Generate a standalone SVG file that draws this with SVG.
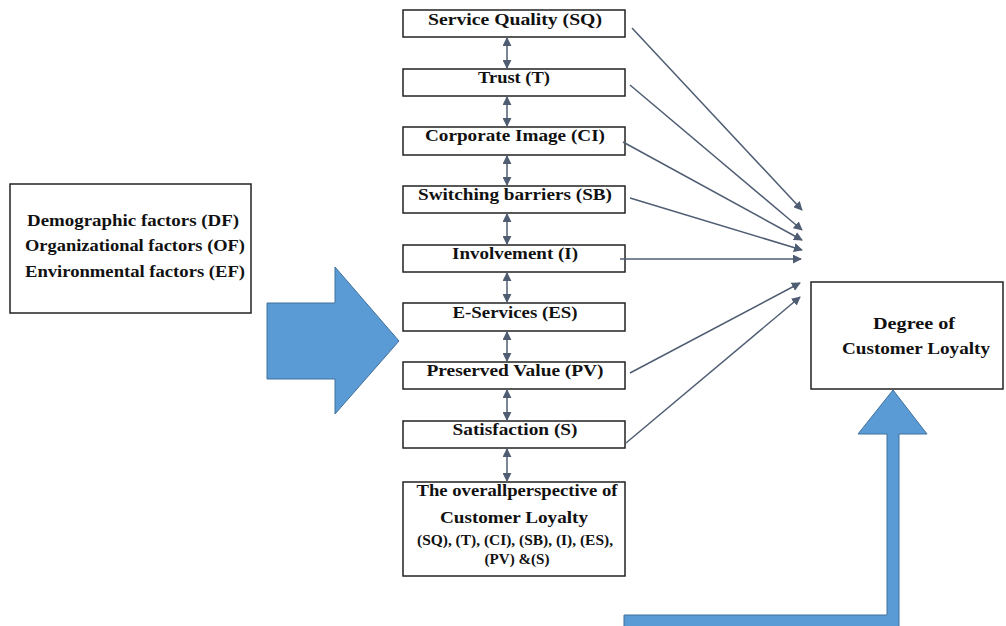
<svg xmlns="http://www.w3.org/2000/svg" width="1006" height="626" viewBox="0 0 1006 626">
<style>
.box{fill:#fff;stroke:#222;stroke-width:1.5}
.t{font-family:"Liberation Serif","Times New Roman",serif;font-weight:bold;font-size:16px;fill:#111;text-anchor:middle}
.s{font-size:14px}
.c{stroke:#4f5d73;stroke-width:1.5;fill:none}
.blue{fill:#5b9bd5;stroke:#41719c;stroke-width:1}
</style>
<defs>
<marker id="ah" viewBox="0 0 10 10" refX="9" refY="5" markerWidth="9" markerHeight="9" markerUnits="userSpaceOnUse" orient="auto-start-reverse">
<path d="M0,0 L10,5 L0,10 z" fill="#4f5d73"/>
</marker>
</defs>
<rect width="1006" height="626" fill="#fff"/>

<g id="factors">
<rect class="box" x="10" y="184" width="241" height="129"/>
<text class="t" x="133" y="226" textLength="212" lengthAdjust="spacingAndGlyphs">Demographic factors (DF)</text>
<text class="t" x="135" y="251" textLength="220" lengthAdjust="spacingAndGlyphs">Organizational factors (OF)</text>
<text class="t" x="135" y="277" textLength="220" lengthAdjust="spacingAndGlyphs">Environmental factors (EF)</text>
</g>

<g id="bigArrowRight">
<polygon class="blue" points="267,303 335,303 335,267 399,341 335,414 335,379 267,379"/>
</g>

<g id="bigArrowUp">
<polygon class="blue" points="893,390 927,434 899,434 899,630 624,630 624,615 887,615 887,434 858,434"/>
</g>

<g id="SQ">
<rect class="box" x="403" y="10" width="222" height="27"/>
<text class="t" x="515" y="25" textLength="174" lengthAdjust="spacingAndGlyphs">Service Quality (SQ)</text>
</g>
<g id="T">
<rect class="box" x="403" y="69" width="222" height="27"/>
<text class="t" x="514" y="83" textLength="72" lengthAdjust="spacingAndGlyphs">Trust (T)</text>
</g>
<g id="CI">
<rect class="box" x="403" y="127" width="222" height="28"/>
<text class="t" x="515" y="141" textLength="180" lengthAdjust="spacingAndGlyphs">Corporate Image (CI)</text>
</g>
<g id="SB">
<rect class="box" x="403" y="186" width="222" height="27"/>
<text class="t" x="515" y="200" textLength="194" lengthAdjust="spacingAndGlyphs">Switching barriers (SB)</text>
</g>
<g id="I">
<rect class="box" x="403" y="245" width="222" height="27"/>
<text class="t" x="515" y="259" textLength="126" lengthAdjust="spacingAndGlyphs">Involvement (I)</text>
</g>
<g id="ES">
<rect class="box" x="403" y="303" width="222" height="28"/>
<text class="t" x="515" y="318" textLength="125" lengthAdjust="spacingAndGlyphs">E-Services (ES)</text>
</g>
<g id="PV">
<rect class="box" x="403" y="362" width="222" height="27"/>
<text class="t" x="515" y="376" textLength="177" lengthAdjust="spacingAndGlyphs">Preserved Value (PV)</text>
</g>
<g id="S">
<rect class="box" x="403" y="421" width="222" height="27"/>
<text class="t" x="515" y="435" textLength="125" lengthAdjust="spacingAndGlyphs">Satisfaction (S)</text>
</g>
<g id="overall">
<rect class="box" x="403" y="482" width="222" height="94"/>
<text class="t" x="517" y="496" textLength="201" lengthAdjust="spacingAndGlyphs">The overallperspective of</text>
<text class="t" x="514" y="523" textLength="148" lengthAdjust="spacingAndGlyphs">Customer Loyalty</text>
<text class="t s" x="515" y="545" textLength="196" lengthAdjust="spacingAndGlyphs">(SQ), (T), (CI), (SB), (I), (ES),</text>
<text class="t s" x="517" y="564" textLength="65" lengthAdjust="spacingAndGlyphs">(PV) &amp;(S)</text>
</g>
<g id="degree">
<rect class="box" x="811" y="282" width="192" height="107"/>
<text class="t" x="914" y="329" textLength="82" lengthAdjust="spacingAndGlyphs">Degree of</text>
<text class="t" x="916" y="354" textLength="148" lengthAdjust="spacingAndGlyphs">Customer Loyalty</text>
</g>

<g id="connectors">
<line class="c" x1="507" y1="38" x2="507" y2="68" marker-start="url(#ah)" marker-end="url(#ah)"/>
<line class="c" x1="507" y1="97" x2="507" y2="126" marker-start="url(#ah)" marker-end="url(#ah)"/>
<line class="c" x1="507" y1="156" x2="507" y2="185" marker-start="url(#ah)" marker-end="url(#ah)"/>
<line class="c" x1="507" y1="214" x2="507" y2="244" marker-start="url(#ah)" marker-end="url(#ah)"/>
<line class="c" x1="507" y1="273" x2="507" y2="302" marker-start="url(#ah)" marker-end="url(#ah)"/>
<line class="c" x1="507" y1="332" x2="507" y2="361" marker-start="url(#ah)" marker-end="url(#ah)"/>
<line class="c" x1="507" y1="390" x2="507" y2="420" marker-start="url(#ah)" marker-end="url(#ah)"/>
<line class="c" x1="507" y1="449" x2="507" y2="481" marker-start="url(#ah)" marker-end="url(#ah)"/>

<line class="c" x1="632" y1="28" x2="802" y2="210" marker-end="url(#ah)"/>
<line class="c" x1="630" y1="85" x2="802" y2="230" marker-end="url(#ah)"/>
<line class="c" x1="623" y1="142" x2="802" y2="240" marker-end="url(#ah)"/>
<line class="c" x1="630" y1="198" x2="802" y2="250" marker-end="url(#ah)"/>
<line class="c" x1="620" y1="259" x2="801" y2="259" marker-end="url(#ah)"/>
<line class="c" x1="630" y1="373" x2="800" y2="283" marker-end="url(#ah)"/>
<line class="c" x1="626" y1="443" x2="800" y2="297" marker-end="url(#ah)"/>
</g>
</svg>
